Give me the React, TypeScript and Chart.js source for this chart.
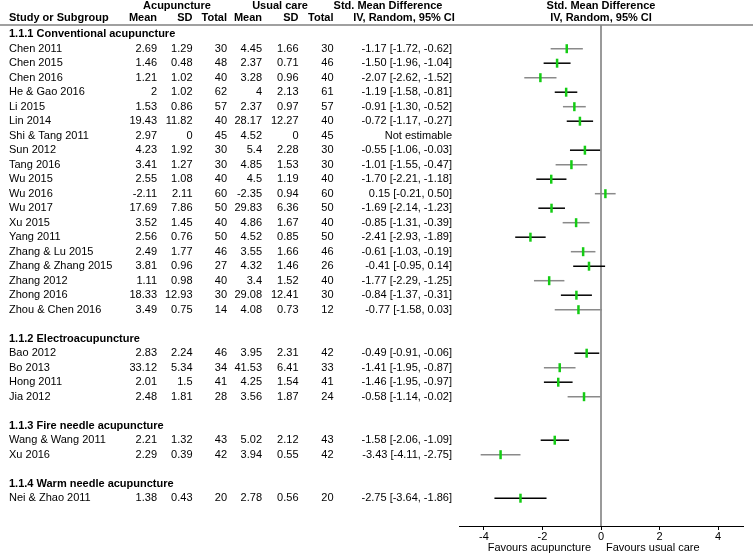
import React, { useEffect, useRef } from 'react';
import { Chart, registerables } from 'chart.js';
Chart.register(...registerables);

const groupLabels = [
  '1.1.1 Conventional acupuncture',
  '1.1.2 Electroacupuncture',
  '1.1.3 Fire needle acupuncture',
  '1.1.4 Warm needle acupuncture',
];
const groupSizes = [19, 4, 2, 1];

const studies = [
  'Chen 2011', 'Chen 2015', 'Chen 2016', 'He & Gao 2016', 'Li 2015', 'Lin 2014', 'Shi & Tang 2011',
  'Sun 2012', 'Tang 2016', 'Wu 2015', 'Wu 2016', 'Wu 2017', 'Xu 2015', 'Yang 2011', 'Zhang & Lu 2015',
  'Zhang & Zhang 2015', 'Zhang 2012', 'Zhong 2016', 'Zhou & Chen 2016',
  'Bao 2012', 'Bo 2013', 'Hong 2011', 'Jia 2012',
  'Wang & Wang 2011', 'Xu 2016',
  'Nei & Zhao 2011',
];
const acuMean = [2.69, 1.46, 1.21, 2, 1.53, 19.43, 2.97, 4.23, 3.41, 2.55, -2.11, 17.69, 3.52, 2.56, 2.49, 3.81, 1.11, 18.33, 3.49, 2.83, 33.12, 2.01, 2.48, 2.21, 2.29, 1.38];
const acuSD = [1.29, 0.48, 1.02, 1.02, 0.86, 11.82, 0, 1.92, 1.27, 1.08, 2.11, 7.86, 1.45, 0.76, 1.77, 0.96, 0.98, 12.93, 0.75, 2.24, 5.34, 1.5, 1.81, 1.32, 0.39, 0.43];
const acuTotal = [30, 48, 40, 62, 57, 40, 45, 30, 30, 40, 60, 50, 40, 50, 46, 27, 40, 30, 14, 46, 34, 41, 28, 43, 42, 20];
const ucMean = [4.45, 2.37, 3.28, 4, 2.37, 28.17, 4.52, 5.4, 4.85, 4.5, -2.35, 29.83, 4.86, 4.52, 3.55, 4.32, 3.4, 29.08, 4.08, 3.95, 41.53, 4.25, 3.56, 5.02, 3.94, 2.78];
const ucSD = [1.66, 0.71, 0.96, 2.13, 0.97, 12.27, 0, 2.28, 1.53, 1.19, 0.94, 6.36, 1.67, 0.85, 1.66, 1.46, 1.52, 12.41, 0.73, 2.31, 6.41, 1.54, 1.87, 2.12, 0.55, 0.56];
const ucTotal = [30, 46, 40, 61, 57, 40, 45, 30, 30, 40, 60, 50, 40, 50, 46, 26, 40, 30, 12, 42, 33, 41, 24, 43, 42, 20];
const smd: (number | null)[] = [-1.17, -1.5, -2.07, -1.19, -0.91, -0.72, null, -0.55, -1.01, -1.7, 0.15, -1.69, -0.85, -2.41, -0.61, -0.41, -1.77, -0.84, -0.77, -0.49, -1.41, -1.46, -0.58, -1.58, -3.43, -2.75];
const ciLow: (number | null)[] = [-1.72, -1.96, -2.62, -1.58, -1.3, -1.17, null, -1.06, -1.55, -2.21, -0.21, -2.14, -1.31, -2.93, -1.03, -0.95, -2.29, -1.37, -1.58, -0.91, -1.95, -1.95, -1.14, -2.06, -4.11, -3.64];
const ciHigh: (number | null)[] = [-0.62, -1.04, -1.52, -0.81, -0.52, -0.27, null, -0.03, -0.47, -1.18, 0.5, -1.23, -0.39, -1.89, -0.19, 0.14, -1.25, -0.31, 0.03, -0.06, -0.87, -0.97, -0.02, -1.09, -2.75, -1.86];
const xTicks = [-4, -2, 0, 2, 4];

const FONT = '"Liberation Sans", Arial, sans-serif';

export default function App() {
  const ref = useRef<HTMLCanvasElement | null>(null);
  useEffect(() => {
    if (!ref.current) return;
    const rowOf: number[] = [];
    const headerRow: number[] = [];
    let r = -1;
    groupSizes.forEach((n) => {
      headerRow.push(r);
      for (let j = 0; j < n; j++) rowOf.push(r + 1 + j);
      r += n + 2;
    });
    const yMin = -1.634;
    const yMax = 32.917;

    const ciSets: any[] = [];
    studies.forEach((s, i) => {
      if (smd[i] == null) return;
      ciSets.push({
        type: 'line',
        label: s,
        data: [{ x: ciLow[i], y: rowOf[i] }, { x: ciHigh[i], y: rowOf[i] }],
        borderColor: i % 2 ? '#000000' : '#8a8a8a',
        borderWidth: 1.5,
        pointRadius: 0,
        order: 2,
      });
    });
    const markerData = studies
      .map((s, i) => (smd[i] == null ? null : { x: smd[i], y: rowOf[i] }))
      .filter(Boolean);

    const textPlugin = {
      id: 'forestText',
      afterDraw(chart: any) {
        const ctx = chart.ctx;
        const ys = chart.scales.y;
        const xs = chart.scales.x;
        const top = chart.chartArea.top;
        const zx = xs.getPixelForValue(0);
        ctx.save();
        // header rule
        ctx.strokeStyle = '#808080';
        ctx.lineWidth = 1.5;
        ctx.beginPath();
        ctx.moveTo(0, top);
        ctx.lineTo(753, top);
        ctx.stroke();
        ctx.fillStyle = '#000';
        ctx.textBaseline = 'middle';
        const h1 = top - 19.5;
        const h2 = top - 7.5;
        ctx.font = 'bold 11px ' + FONT;
        ctx.textAlign = 'center';
        ctx.fillText('Acupuncture', 177, h1);
        ctx.fillText('Usual care', 280, h1);
        ctx.fillText('Std. Mean Difference', 388, h1);
        ctx.fillText('IV, Random, 95% CI', 404, h2);
        ctx.fillText('Std. Mean Difference', zx, h1);
        ctx.fillText('IV, Random, 95% CI', zx, h2);
        ctx.textAlign = 'left';
        ctx.fillText('Study or Subgroup', 9, h2);
        ctx.textAlign = 'right';
        const cols = [157, 192.5, 227, 262, 298.5, 333.5];
        const hdrs = ['Mean', 'SD', 'Total', 'Mean', 'SD', 'Total'];
        hdrs.forEach((h, k) => ctx.fillText(h, cols[k], h2));
        ctx.textAlign = 'left';
        groupLabels.forEach((g, k) => ctx.fillText(g, 9, ys.getPixelForValue(headerRow[k])));
        ctx.font = '11px ' + FONT;
        studies.forEach((s, i) => {
          const y = ys.getPixelForValue(rowOf[i]);
          ctx.textAlign = 'left';
          ctx.fillText(s, 9, y);
          ctx.textAlign = 'right';
          const vals = [acuMean[i], acuSD[i], acuTotal[i], ucMean[i], ucSD[i], ucTotal[i]];
          vals.forEach((v, k) => ctx.fillText(String(v), cols[k], y));
          const txt = smd[i] == null
            ? 'Not estimable'
            : `${(smd[i] as number).toFixed(2)} [${(ciLow[i] as number).toFixed(2)}, ${(ciHigh[i] as number).toFixed(2)}]`;
          ctx.fillText(txt, 452, y);
        });
        const fy = chart.height - 6;
        ctx.textAlign = 'right';
        ctx.fillText('Favours acupuncture', zx - 10, fy);
        ctx.textAlign = 'left';
        ctx.fillText('Favours usual care', zx + 5, fy);
        ctx.restore();
      },
    };

    const chart = new Chart(ref.current, {
      type: 'scatter',
      data: {
        datasets: [
          {
            type: 'line',
            label: 'zero',
            data: [{ x: 0, y: yMin }, { x: 0, y: yMax }],
            borderColor: '#9a9a9a',
            borderWidth: 2,
            pointRadius: 0,
            order: 3,
          } as any,
          ...ciSets,
          {
            type: 'scatter',
            label: 'SMD',
            data: markerData,
            pointStyle: 'line',
            rotation: 90,
            radius: 4.5,
            borderWidth: 2.5,
            borderColor: '#14cc14',
            backgroundColor: '#14cc14',
            order: 1,
          } as any,
        ],
      },
      options: {
        responsive: false,
        animation: false,
        devicePixelRatio: 1,
        layout: { padding: { left: 459, right: 10, top: 25, bottom: 0 } },
        plugins: { legend: { display: false }, tooltip: { enabled: false } },
        scales: {
          x: {
            type: 'linear',
            min: -4.85,
            max: 4.85,
            afterBuildTicks: (scale: any) => {
              scale.ticks = xTicks.map((v) => ({ value: v }));
            },
            afterFit: (scale: any) => {
              scale.height = 28;
            },
            grid: { drawOnChartArea: false, drawTicks: true, tickLength: 4, color: '#000' },
            border: { display: true, color: '#000', width: 1 },
            ticks: { color: '#000', font: { family: FONT, size: 11 }, padding: 0, autoSkip: false, maxRotation: 0 },
          },
          y: {
            type: 'linear',
            display: false,
            reverse: true,
            min: yMin,
            max: yMax,
          },
        },
      },
      plugins: [textPlugin],
    });
    return () => chart.destroy();
  }, []);
  return (
    <div style={{ position: 'absolute', left: 0, top: 0, width: 753, height: 554, background: '#fff' }}>
      <canvas ref={ref} width={753} height={554} />
    </div>
  );
}
